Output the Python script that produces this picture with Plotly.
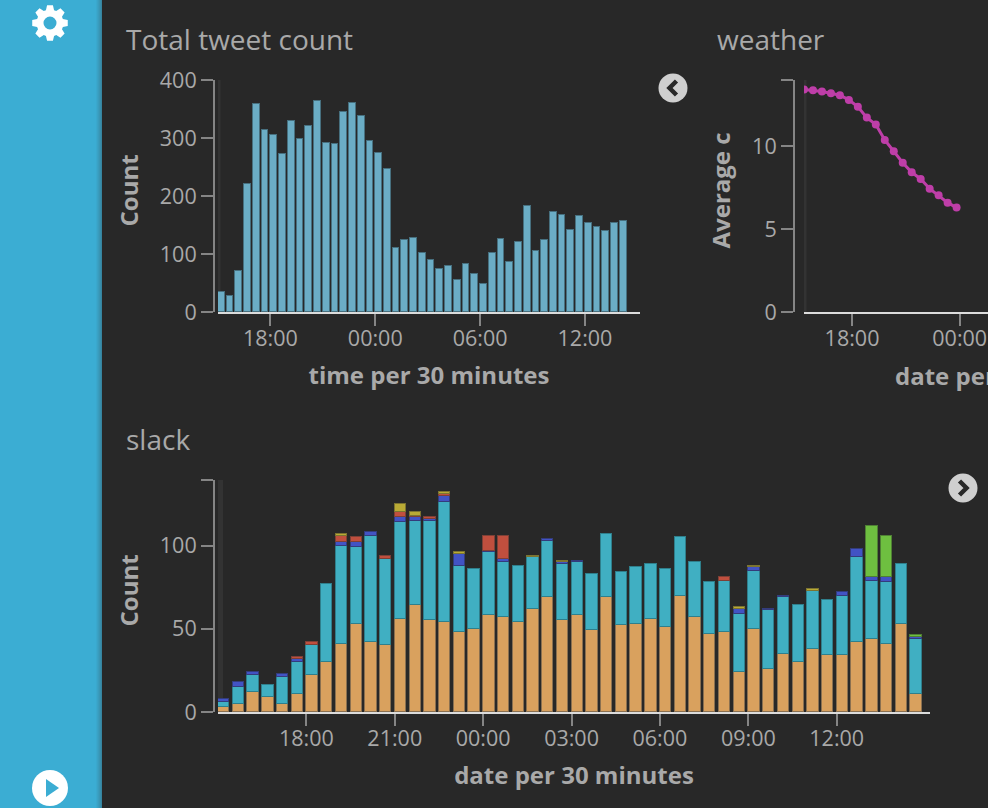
import numpy as np
import pandas as pd
import plotly.graph_objects as go

W, H = 988, 808
BG = "#282828"
TXT = "#a9a9a9"
AXIS = "#858585"
BASE = "#dcdcdc"

# ---- data ----
tweet_counts = [35, 28, 71, 221, 359, 313, 306, 273, 330, 298, 320, 363, 292, 290, 345, 361,
                338, 294, 275, 246, 110, 125, 128, 102, 90, 75, 79, 55, 83, 66, 49, 102,
                126, 86, 120, 182, 105, 124, 173, 168, 141, 166, 154, 147, 140, 154, 157]
weather_values = [13.42, 13.38, 13.3, 13.2, 13.08, 12.8, 12.38, 11.73, 11.31, 10.38, 9.7, 9.01,
                  8.43, 8.03, 7.44, 7.04, 6.6, 6.3]
slack_orange = [3, 5, 12, 9, 5, 11, 22, 30, 41, 53, 42, 40, 56, 64, 55, 54, 48, 50, 58, 57, 54, 62, 69, 55,
                58, 49, 69, 52, 53, 56, 51, 70, 57, 47, 48, 24, 50, 26, 35, 30, 38, 34, 34, 42, 44, 41, 53, 11]
slack_teal = [3, 10, 10, 7, 16, 19, 18, 47, 59, 46, 64, 52, 58, 51, 60, 72, 40, 36, 38, 33, 34, 31, 34, 34,
              32, 34, 38, 32, 34, 33, 35, 35, 33, 31, 31, 35, 35, 35, 34, 34, 35, 33, 36, 51, 35, 37, 36, 33]
slack_blue = [2, 3, 2, 0, 2, 2, 0, 0, 2, 3, 2, 0, 3, 2, 1, 4, 7, 0, 1, 2, 0, 0, 1, 1,
              1, 0, 0, 0, 0, 0, 0, 0, 0, 0, 0, 3, 2, 1, 1, 0, 0, 0, 2, 5, 2, 3, 0, 1]
slack_red = [0, 0, 0, 0, 0, 1, 2, 0, 4, 3, 0, 2, 3, 1, 1, 1, 0, 0, 9, 14, 0, 0, 0, 0,
             0, 0, 0, 0, 0, 0, 0, 0, 0, 0, 2, 0, 0, 0, 0, 0, 0, 0, 0, 0, 0, 0, 0, 0]
slack_yellow = [0, 0, 0, 0, 0, 0, 0, 0, 1, 0, 0, 0, 5, 2, 0, 1, 1, 0, 0, 0, 0, 1, 0, 1,
                0, 0, 0, 0, 0, 0, 0, 0, 0, 0, 0, 1, 1, 0, 0, 0, 1, 0, 0, 0, 0, 0, 0, 0]
slack_green = [0, 0, 0, 0, 0, 0, 0, 0, 0, 0, 0, 0, 0, 0, 0, 0, 0, 0, 0, 0, 0, 0, 0, 0,
               0, 0, 0, 0, 0, 0, 0, 0, 0, 0, 0, 0, 0, 0, 0, 0, 0, 0, 0, 0, 31, 25, 0, 1]
slack_series = [("orange", slack_orange, "#D9A15E", "#8a7050"),
                ("teal", slack_teal, "#40AFC2", "#2f7f8c"),
                ("blue", slack_blue, "#4253C4", "#333c7c"),
                ("red", slack_red, "#C04F3E", "#7e4036"),
                ("yellow", slack_yellow, "#B9AA35", "#7c7430"),
                ("green", slack_green, "#6EBF40", "#4f8034")]
tweet_ticks = ["2016-03-01 18:00", "2016-03-02 00:00", "2016-03-02 06:00", "2016-03-02 12:00"]
weather_ticks = ["2016-03-01 18:00", "2016-03-02 00:00"]
slack_ticks = ["2016-03-01 18:00", "2016-03-01 21:00", "2016-03-02 00:00", "2016-03-02 03:00",
               "2016-03-02 06:00", "2016-03-02 09:00", "2016-03-02 12:00"]

tweet_times = pd.date_range("2016-03-01 15:00", periods=len(tweet_counts), freq="30min")
weather_times = pd.date_range("2016-03-01 15:19:30", periods=len(weather_values), freq="30min")
slack_times = pd.date_range("2016-03-01 15:00", periods=len(slack_orange), freq="30min")

SLOT_MS = 30 * 60 * 1000
BAR_W = 0.77 * SLOT_MS


def px(x):
    return x / W


def py(y):
    return 1 - y / H


fig = go.Figure()

fig.add_trace(go.Bar(x=tweet_times, y=tweet_counts, width=BAR_W, offset=0, xaxis="x", yaxis="y",
                     marker=dict(color="#6BADC5", line=dict(color="#47707f", width=1)), showlegend=False))
fig.add_trace(go.Scatter(x=weather_times, y=weather_values, mode="lines+markers", xaxis="x2", yaxis="y2",
                         line=dict(color="#BE3EA8", width=3), marker=dict(color="#BE3EA8", size=8),
                         showlegend=False))
for name, vals, col, edge in slack_series:
    fig.add_trace(go.Bar(x=slack_times, y=[v if v else None for v in vals], name=name, width=BAR_W, offset=0,
                         xaxis="x3", yaxis="y3",
                         marker=dict(color=col, line=dict(color=edge, width=1)), showlegend=False))

tickfont = dict(family="Open Sans", size=21.5, color=TXT)
titlefont = dict(family="Open Sans", size=24, color=TXT, weight=700)


def xax(dom, rng, ticks, anchor, title=None, lw=2):
    d = dict(domain=[px(dom[0]), px(dom[1])], range=rng, type="date", anchor=anchor, automargin=False,
             tickmode="array", tickvals=ticks, ticktext=[t[-5:] for t in ticks],
             ticks="outside", ticklen=12, tickwidth=2, tickcolor=AXIS, tickfont=tickfont, ticklabelstandoff=-6,
             showline=True, linecolor=BASE, linewidth=lw, showgrid=False, zeroline=False)
    if title:
        d["title"] = dict(text=title, font=titlefont, standoff=16)
    return d


def yax(dom, rng, vals, labels, pos):
    return dict(domain=[py(dom[1]), py(dom[0])], range=rng, anchor="free", position=px(pos), automargin=False,
                tickmode="array", tickvals=vals, ticktext=labels,
                ticks="outside", ticklen=12, tickwidth=2, tickcolor=AXIS, tickfont=tickfont,
                showline=True, linecolor=AXIS, linewidth=2, showgrid=False, zeroline=False)


def annot(text, x, y, size, **kw):
    f = dict(family="Open Sans", size=size, color=TXT)
    f.update(kw.pop("font", {}))
    return dict(text=text, x=px(x), y=py(y), xref="paper", yref="paper", showarrow=False,
                xanchor=kw.pop("xanchor", "left"), yanchor="middle", font=f, **kw)


def rect(x0, y0, x1, y1, color, layer="above"):
    return dict(type="rect", xref="paper", yref="paper", x0=px(x0), x1=px(x1), y0=py(y0), y1=py(y1),
                fillcolor=color, line=dict(width=0), layer=layer)


def circle(cx, cy, r, color):
    return dict(type="circle", xref="paper", yref="paper", x0=px(cx - r), x1=px(cx + r),
                y0=py(cy + r), y1=py(cy - r), fillcolor=color, line=dict(width=0), layer="above")


def poly(points, color, closed=True, lw=0, line_color=None):
    path = "M " + " L ".join(f"{px(x):.5f},{py(y):.5f}" for x, y in points) + (" Z" if closed else "")
    d = dict(type="path", xref="paper", yref="paper", path=path, layer="above")
    if closed:
        d.update(fillcolor=color, line=dict(width=0))
    else:
        d.update(line=dict(color=line_color, width=lw))
    return d


def gear(cx, cy, r_out, r_in, teeth=8):
    pts = []
    step = 2 * np.pi / teeth
    for i in range(teeth):
        a = i * step
        for da, r in [(-0.30, r_in), (-0.16, r_out), (0.16, r_out), (0.30, r_in)]:
            t = a + da * step * 1.3
            pts.append((cx + r * np.cos(t), cy + r * np.sin(t)))
    return pts


SIDE = "#3BADD3"
shapes = [rect(0, 0, 97, H, SIDE)]
shade = ["#3AA8CD", "#3AA2C5", "#399CBD", "#3995B4", "#388EAB", "#37849F"]
for i, c in enumerate(shade):
    shapes.append(rect(96 + i, 0, 97 + i, H, c))
shapes += [poly(gear(50, 23, 18, 13.5), "#ffffff"), circle(50, 23, 6.5, SIDE)]
shapes += [circle(50, 788, 18, "#ffffff"), poly([(46, 779), (46, 797), (59, 788)], SIDE)]
for cx, cy, d in [(673, 88, -1), (963, 488, 1)]:
    shapes.append(circle(cx, cy, 14.5, "#cfcfcf"))
    shapes.append(poly([(cx - 3.5 * d, cy - 7), (cx + 3.5 * d, cy), (cx - 3.5 * d, cy + 7)], None, closed=False,
                       lw=4.5, line_color=BG))
# faint vertical edge beside each plot's first slot, behind the marks
shapes += [rect(218, 80, 220.5, 312, "#333333", "below"), rect(804, 80, 806.5, 312, "#333333", "below"),
           rect(218, 480, 223, 712, "#333333", "below")]

annotations = [
    annot("Total tweet count", 124, 39, 28),
    annot("weather", 715, 39, 28),
    annot("slack", 124, 439, 28),
    annot("date per 30 minutes", 893, 375, 24, font=dict(weight=700)),
    annot("Count", 128, 190.5, 24, font=dict(weight=700), textangle=-90, xanchor="center"),
    annot("Average c", 720, 190.5, 24, font=dict(weight=700), textangle=-90, xanchor="center"),
    annot("Count", 128, 590.5, 24, font=dict(weight=700), textangle=-90, xanchor="center"),
]

fig.update_layout(
    width=W, height=H, autosize=False, margin=dict(l=0, r=0, t=0, b=0),
    paper_bgcolor=BG, plot_bgcolor=BG, barmode="stack", bargap=0,
    font=dict(family="Open Sans", color=TXT),
    xaxis=xax((218, 640), ["2016-03-01 15:00", "2016-03-02 15:09"], tweet_ticks, "y", "time per 30 minutes"),
    yaxis=yax((80, 312), [0, 400], [0, 100, 200, 300, 400], ["0", "100", "200", "300", "400"], 214),
    xaxis2=xax((804, 988), ["2016-03-01 15:19:30", "2016-03-02 01:34:30"], weather_ticks, "y2", lw=1.5),
    yaxis2=yax((80, 312), [0, 14], [0, 5, 10, 14], ["0", "5", "10", ""], 794),
    xaxis3=xax((218, 930), ["2016-03-01 15:00", "2016-03-02 15:10"], slack_ticks, "y3", "date per 30 minutes"),
    yaxis3=yax((480, 712), [0, 139.4], [0, 50, 100, 139.4], ["0", "50", "100", ""], 214),
    shapes=shapes, annotations=annotations,
)

fig.write_html("out.html", config=dict(displayModeBar=False),
               post_script="document.body.style.margin='0';document.body.style.overflow='hidden';")
